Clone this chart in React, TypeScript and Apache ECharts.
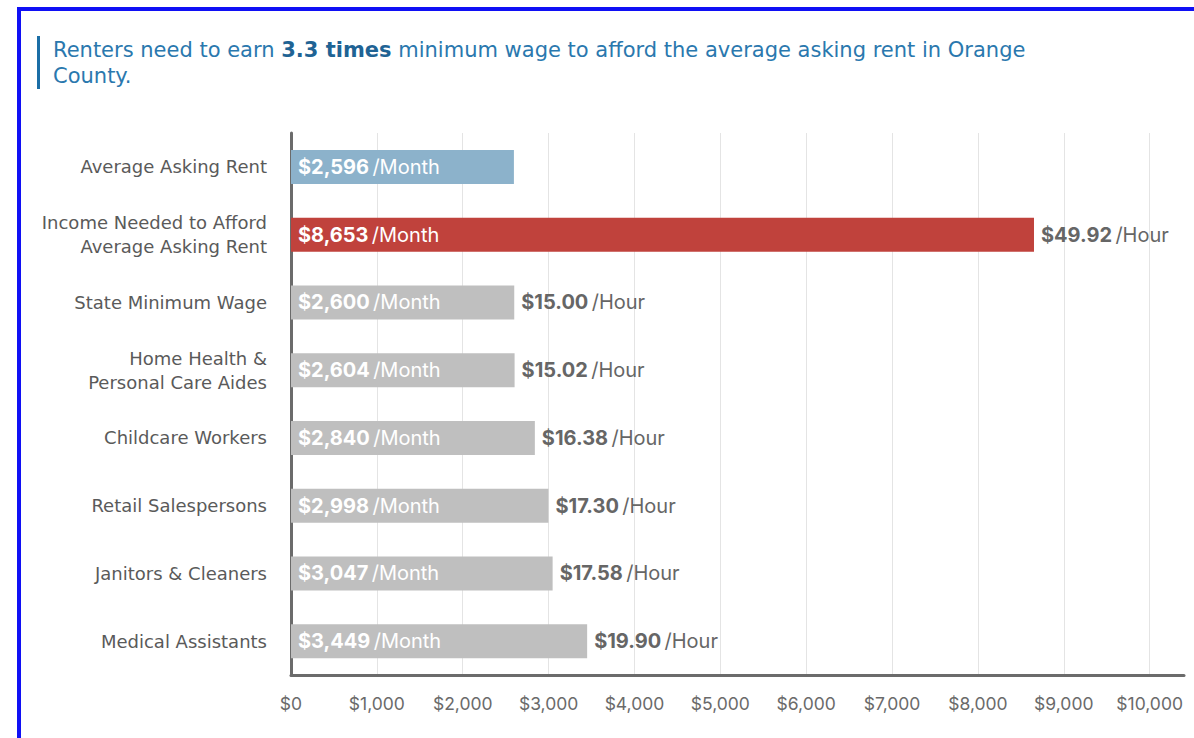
import React, { useEffect, useRef } from "react";
import * as echarts from "echarts";

const categories = [
  "Average Asking Rent",
  "Income Needed to Afford\nAverage Asking Rent",
  "State Minimum Wage",
  "Home Health &\nPersonal Care Aides",
  "Childcare Workers",
  "Retail Salespersons",
  "Janitors & Cleaners",
  "Medical Assistants",
];
const monthlyValues = [2596, 8653, 2600, 2604, 2840, 2998, 3047, 3449];
const hourlyLabels = ["", "$49.92", "$15.00", "$15.02", "$16.38", "$17.30", "$17.58", "$19.90"];
const xTicks = [0, 1000, 2000, 3000, 4000, 5000, 6000, 7000, 8000, 9000, 10000];

const FONT = "Inter, 'Open Sans', sans-serif";
const WIDE = "'DejaVu Sans', Inter, sans-serif";

export default function App() {
  const ref = useRef<HTMLDivElement>(null);
  useEffect(() => {
    if (!ref.current) return;
    const chart = echarts.init(ref.current, null, { renderer: "svg" });
    const barColor = (i: number) => (i === 0 ? "#8cb2cb" : i === 1 ? "#c0423c" : "#bfbfbf");
    const fmt = (v: number) => "$" + v.toLocaleString("en-US");
    chart.setOption({
      animation: false,
      backgroundColor: "#ffffff",
      textStyle: { fontFamily: FONT },
      graphic: [
        {
          type: "rect",
          shape: { x: 19, y: 9, width: 1400, height: 900 },
          style: { fill: "none", stroke: "#1010f5", lineWidth: 4 },
          silent: true,
        },
        {
          type: "rect",
          shape: { x: 37, y: 36, width: 3, height: 53 },
          style: { fill: "#1b6ea6" },
        },
        {
          type: "text",
          x: 53,
          y: 37,
          style: {
            text: "{n|Renters need to earn }{b|3.3 times}{n| minimum wage to afford the average asking rent in Orange}\n{n|County.}",
            fontFamily: WIDE,
            rich: {
              n: { fontSize: 21, fill: "#2a78ae", fontFamily: WIDE, lineHeight: 26 },
              b: { fontSize: 21, fill: "#1f6394", fontWeight: "bold", fontFamily: WIDE, lineHeight: 26 },
            },
          },
        },
      ],
      grid: { left: 291, right: 10, top: 133, bottom: 63, containLabel: false },
      xAxis: {
        type: "value",
        min: 0,
        max: 10400,
        interval: 1000,
        axisLine: { show: true, lineStyle: { color: "#6b6b6b", width: 3 } },
        axisTick: { show: false },
        splitLine: { show: true, showMinLine: false, showMaxLine: false, lineStyle: { color: "#e4e4e4", width: 1 } },
        axisLabel: {
          showMaxLabel: false,
          color: "#6a6a6a",
          fontSize: 17.5,
          fontFamily: FONT,
          margin: 19,
          formatter: (v: number) => (xTicks.includes(v) ? fmt(v) : ""),
        },
      },
      yAxis: {
        type: "category",
        inverse: true,
        data: categories,
        axisLine: { show: true, lineStyle: { color: "#6b6b6b", width: 3 } },
        axisTick: { show: false },
        axisLabel: {
          color: "#5a5a5a",
          fontSize: 18,
          fontFamily: WIDE,
          margin: 24,
          lineHeight: 24,
          align: "right",
        },
      },
      series: [
        {
          type: "bar",
          barWidth: 34,
          data: monthlyValues.map((v, i) => ({ value: v, itemStyle: { color: barColor(i) } })),
          label: {
            show: true,
            position: "insideLeft",
            distance: 7,
            formatter: (p: any) => `{b|${fmt(p.value)}} {r|/Month}`,
            rich: {
              b: { fontSize: 20, fontWeight: "bold", color: "#ffffff", fontFamily: FONT },
              r: { fontSize: 20, color: "#ffffff", fontFamily: FONT },
            },
          },
          z: 2,
        },
        {
          type: "bar",
          barWidth: 34,
          barGap: "-100%",
          data: monthlyValues,
          itemStyle: { color: "rgba(0,0,0,0)" },
          label: {
            show: true,
            position: "right",
            distance: 7,
            formatter: (p: any) => (hourlyLabels[p.dataIndex] ? `{b|${hourlyLabels[p.dataIndex]}} {r|/Hour}` : ""),
            rich: {
              b: { fontSize: 20, fontWeight: "bold", color: "#666666", fontFamily: FONT },
              r: { fontSize: 20, color: "#666666", fontFamily: FONT },
            },
          },
          z: 3,
        },
      ],
    });
    return () => chart.dispose();
  }, []);
  return <div ref={ref} style={{ position: "absolute", left: 0, top: 0, width: 1194, height: 738 }} />;
}
